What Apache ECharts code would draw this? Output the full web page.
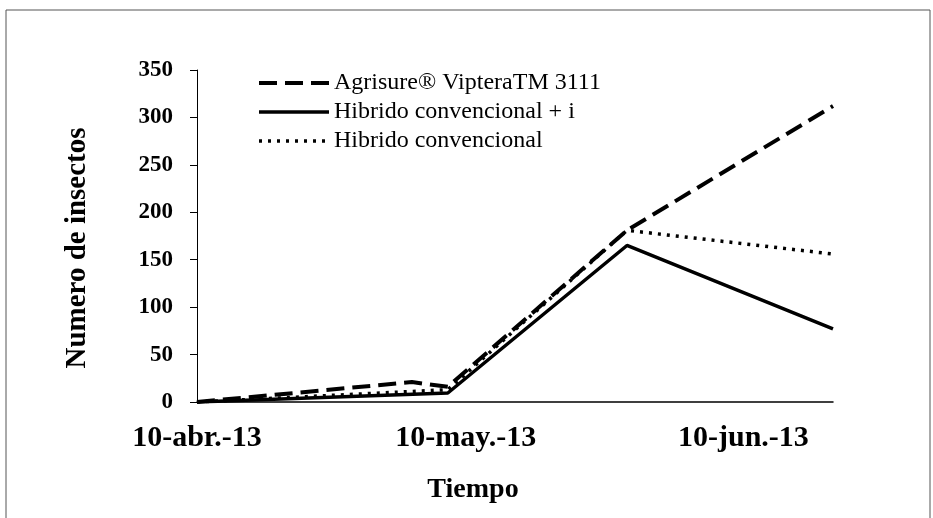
<!DOCTYPE html>
<html>
<head>
<meta charset="utf-8">
<script src="https://cdn.jsdelivr.net/npm/echarts@6/dist/echarts.min.js"></script>
<style>
  html, body { margin: 0; padding: 0; background: #fff; }
  #chart { width: 933px; height: 518px; }
</style>
</head>
<body>
<div id="chart"></div>
<script>
// fechas de muestreo y valores
const seriesNames = ['Agrisure® VipteraTM 3111', 'Hibrido convencional + i', 'Hibrido convencional'];
const agrisureDates = ['2013-04-10', '2013-05-04', '2013-05-08', '2013-05-28', '2013-06-20'];
const agrisureValues = [0, 21, 16, 181, 312];
const convIDates = ['2013-04-10', '2013-05-08', '2013-05-28', '2013-06-20'];
const convIValues = [0, 9.5, 165, 77];
const convDates = ['2013-04-10', '2013-05-08', '2013-05-28', '2013-06-20'];
const convValues = [0, 13, 181, 156];
const tickDates = ['2013-04-10', '2013-05-10', '2013-06-10'];
const tickLabels = ['10-abr.-13', '10-may.-13', '10-jun.-13'];
const startDate = '2013-04-10';
const endDate = '2013-06-20';

const FONT = '"Liberation Serif", "Times New Roman", serif';
// días desde la fecha inicial (eje de valores)
const day = d => {
  const [y, m, dd] = d.split('-').map(Number);
  const [y0, m0, d0] = startDate.split('-').map(Number);
  return (Date.UTC(y, m - 1, dd) - Date.UTC(y0, m0 - 1, d0)) / 86400000;
};
const pairs = (dates, vals) => dates.map((d, i) => [day(d), vals[i]]);
const tickDays = tickDates.map(day);

// estilo de cada serie: [tipo de trazo, grosor]
const styles = [[[18, 8], 4], ['solid', 3.5], [[3, 6], 3.5]];

const chart = echarts.init(document.getElementById('chart'));

const lineSeries = (i, data) => ({
  name: seriesNames[i],
  type: 'line',
  data,
  symbol: 'none',
  showSymbol: false,
  lineStyle: { color: '#000', width: styles[i][1], type: styles[i][0], cap: 'butt' },
  itemStyle: { color: '#000' }
});

chart.setOption({
  backgroundColor: '#fff',
  animation: false,
  grid: { left: 197, right: 100, top: 70, bottom: 116, containLabel: false },
  legend: {
    orient: 'vertical',
    left: 252,
    top: 65,
    itemWidth: 70,
    itemHeight: 14,
    itemGap: 3,
    itemStyle: { opacity: 0 },
    textStyle: { fontFamily: FONT, fontSize: 24, color: '#000', lineHeight: 26 },
    data: seriesNames.map((name, i) => ({
      name,
      lineStyle: { color: '#000', width: styles[i][1], type: styles[i][0], cap: 'butt' }
    }))
  },
  xAxis: {
    type: 'value',
    min: 0,
    max: day(endDate),
    axisLine: { show: true, lineStyle: { color: '#000', width: 1.5 } },
    axisTick: { show: false },
    splitLine: { show: false },
    axisLabel: {
      customValues: tickDays,
      margin: 21,
      fontFamily: FONT,
      fontWeight: 'bold',
      fontSize: 30,
      color: '#000',
      formatter: v => tickLabels[tickDays.indexOf(v)] || ''
    }
  },
  yAxis: {
    type: 'value',
    min: 0,
    max: 350,
    interval: 50,
    axisLine: { show: true, lineStyle: { color: '#000', width: 1 } },
    axisTick: { show: true, inside: false, length: 7, lineStyle: { color: '#000' } },
    splitLine: { show: false },
    axisLabel: { margin: 24, fontFamily: FONT, fontWeight: 'bold', fontSize: 23, color: '#000' }
  },
  graphic: [
    {
      type: 'rect',
      shape: { x: 6, y: 10, width: 924, height: 540 },
      style: { fill: 'none', stroke: '#555', lineWidth: 1 },
      silent: true
    },
    {
      type: 'text',
      x: 78,
      y: 248,
      rotation: Math.PI / 2,
      style: {
        text: 'Numero de insectos',
        fontFamily: FONT,
        fontWeight: 'bold',
        fontSize: 29,
        fill: '#000',
        align: 'center',
        verticalAlign: 'middle'
      }
    },
    {
      type: 'text',
      x: 473,
      y: 490,
      style: {
        text: 'Tiempo',
        fontFamily: FONT,
        fontWeight: 'bold',
        fontSize: 28,
        fill: '#000',
        align: 'center',
        verticalAlign: 'middle'
      }
    }
  ],
  series: [
    lineSeries(0, pairs(agrisureDates, agrisureValues)),
    lineSeries(1, pairs(convIDates, convIValues)),
    lineSeries(2, pairs(convDates, convValues))
  ]
});
</script>
</body>
</html>
